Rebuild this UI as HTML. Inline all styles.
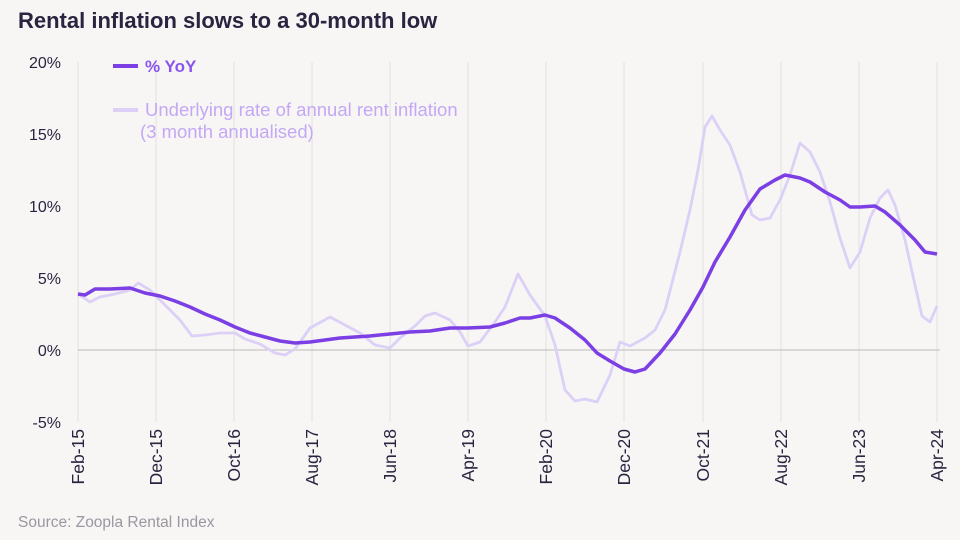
<!DOCTYPE html><html><head><style>body{margin:0;background:#f7f6f5;}svg{display:block;font-family:"Liberation Sans",sans-serif;}</style></head><body>
<svg width="960" height="540" viewBox="0 0 960 540">
<rect width="960" height="540" fill="#f7f6f5"/>
<text x="18" y="28" font-size="22" font-weight="bold" fill="#2b2440">Rental inflation slows to a 30-month low</text>
<g stroke="#e6e4e2" stroke-width="1.2">
<line x1="78" y1="62" x2="78" y2="422"/><line x1="156" y1="62" x2="156" y2="422"/><line x1="234" y1="62" x2="234" y2="422"/><line x1="312" y1="62" x2="312" y2="422"/><line x1="390" y1="62" x2="390" y2="422"/><line x1="468" y1="62" x2="468" y2="422"/><line x1="546" y1="62" x2="546" y2="422"/><line x1="624" y1="62" x2="624" y2="422"/><line x1="703" y1="62" x2="703" y2="422"/><line x1="781" y1="62" x2="781" y2="422"/><line x1="859" y1="62" x2="859" y2="422"/><line x1="937" y1="62" x2="937" y2="422"/>
</g>
<line x1="78" y1="350" x2="940" y2="350" stroke="#bdbab8" stroke-width="1"/>
<g font-size="16" fill="#2b2440" text-anchor="end">
<text x="61" y="68">20%</text><text x="61" y="140">15%</text><text x="61" y="212">10%</text><text x="61" y="284">5%</text><text x="61" y="356">0%</text><text x="61" y="428">-5%</text>
</g>
<g font-size="17.5" fill="#2b2440" text-anchor="end">
<text transform="translate(84,429) rotate(-90)">Feb-15</text>
<text transform="translate(162,429) rotate(-90)">Dec-15</text>
<text transform="translate(240,429) rotate(-90)">Oct-16</text>
<text transform="translate(318,429) rotate(-90)">Aug-17</text>
<text transform="translate(396,429) rotate(-90)">Jun-18</text>
<text transform="translate(474,429) rotate(-90)">Apr-19</text>
<text transform="translate(552,429) rotate(-90)">Feb-20</text>
<text transform="translate(630,429) rotate(-90)">Dec-20</text>
<text transform="translate(709,429) rotate(-90)">Oct-21</text>
<text transform="translate(787,429) rotate(-90)">Aug-22</text>
<text transform="translate(865,429) rotate(-90)">Jun-23</text>
<text transform="translate(943,429) rotate(-90)">Apr-24</text>
</g>
<line x1="113" y1="66" x2="138" y2="66" stroke="#7b3fe4" stroke-width="4"/>
<text x="145" y="72" font-size="17" font-weight="bold" fill="#8a55ec">% YoY</text>
<line x1="113" y1="110" x2="138" y2="110" stroke="#ddd0f7" stroke-width="4"/>
<text x="145" y="116" font-size="18.5" fill="#c4a8f5">Underlying rate of annual rent inflation</text>
<text x="140" y="138" font-size="18.5" fill="#c4a8f5">(3 month annualised)</text>
<polyline fill="none" stroke="#ddd0f7" stroke-width="2.8" stroke-linejoin="round" points="78,294 90,302 100,297 115,294 130,290 138,283 150,290 165,305 180,320 192,336 205,335 220,333 235,333 245,339 260,344 275,353 285,355 295,349 310,328 330,317 345,325 360,333 375,345 390,348 400,338 415,326 425,316 435,313 450,320 460,332 468,346 480,342 495,322 505,307 518,274 530,295 545,316 555,345 565,390 575,401 585,399 597,402 610,375 620,342 630,346 645,338 655,330 665,310 680,252 690,210 698,170 705,127 712,116 720,130 730,145 740,172 752,215 760,220 770,218 780,200 790,175 800,143 810,152 820,172 830,202 840,238 850,268 860,252 870,218 880,198 888,190 895,205 905,240 915,285 922,316 930,322 937,306"/>
<polyline fill="none" stroke="#7b3fe4" stroke-width="3.5" stroke-linejoin="round" points="78,294 85,295 95,289 110,289 130,288 145,293 160,296 175,301 190,307 205,314 220,320 235,327 250,333 265,337 280,341 295,343 310,342 325,340 340,338 355,337 370,336 390,334 410,332 430,331 450,328 468,328 490,327 505,323 520,318 530,318 545,315 555,318 570,328 585,340 597,353 610,361 624,369 635,372 645,369 660,353 675,334 690,310 703,287 715,262 730,237 745,210 760,189 775,180 785,175 800,178 810,182 825,192 840,200 850,207 860,207 875,206 885,212 900,225 915,240 925,252 937,254"/>
<text x="18" y="527" font-size="15.5" fill="#9a97a0">Source: Zoopla Rental Index</text>
</svg></body></html>
